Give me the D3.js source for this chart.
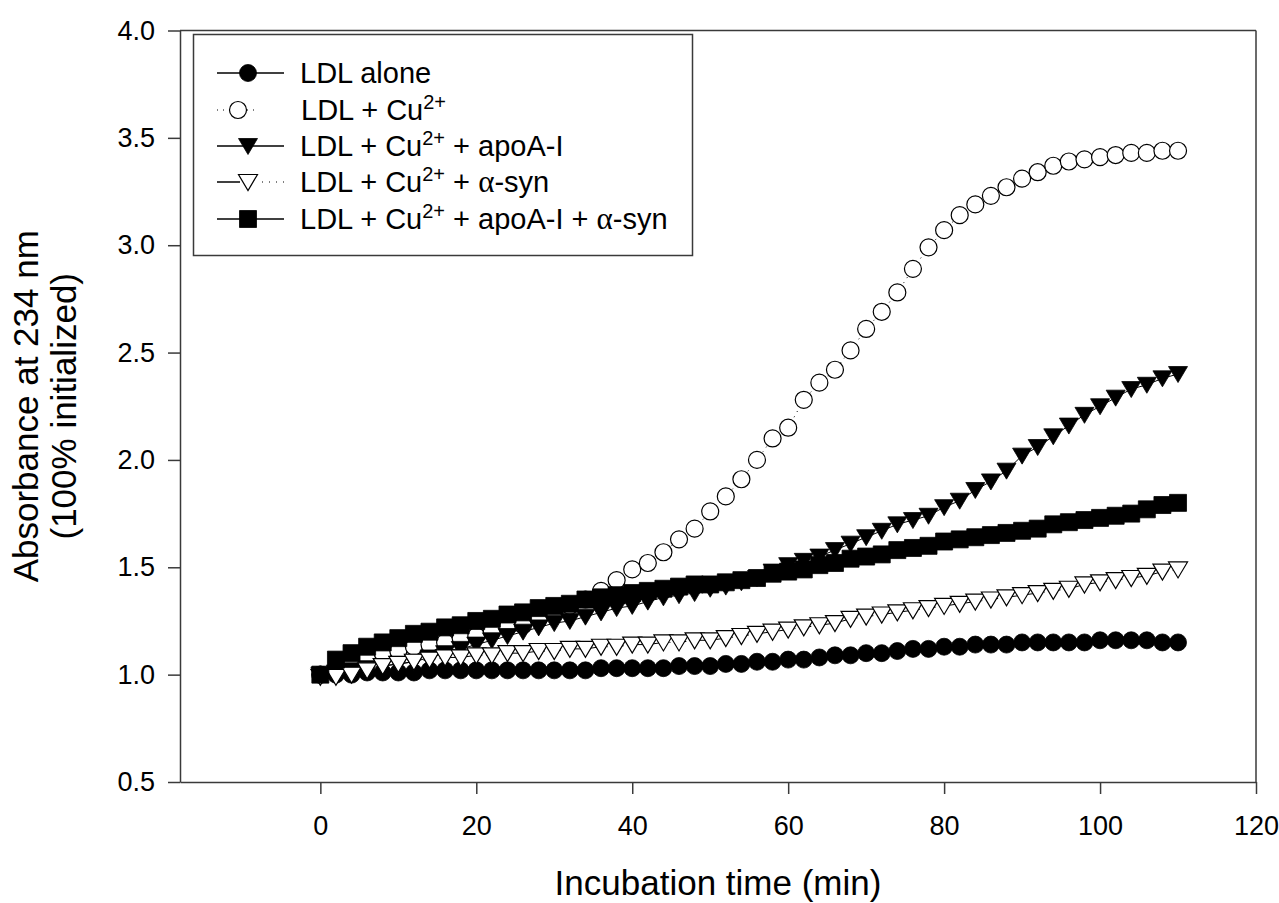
<!DOCTYPE html>
<html lang="en">
<head>
<meta charset="UTF-8">
<title>LDL oxidation kinetics</title>
<script src="https://d3js.org/d3.v7.min.js"></script>
<style>
  body { margin: 0; background: #fff; }
  svg { display: block; font-family: "Liberation Sans", Arial, sans-serif; }
</style>
</head>
<body>
<div id="chart"></div>
<script>
// incubation time (min)
const times = [0, 2, 4, 6, 8, 10, 12, 14, 16, 18,
               20, 22, 24, 26, 28, 30, 32, 34, 36, 38,
               40, 42, 44, 46, 48, 50, 52, 54, 56, 58,
               60, 62, 64, 66, 68, 70, 72, 74, 76, 78,
               80, 82, 84, 86, 88, 90, 92, 94, 96, 98,
               100, 102, 104, 106, 108, 110];

const ldlAlone = [1.00, 1.00, 1.00, 1.01, 1.01, 1.01, 1.01, 1.02, 1.02, 1.02,
                  1.02, 1.02, 1.02, 1.02, 1.02, 1.02, 1.02, 1.02, 1.03, 1.03,
                  1.03, 1.03, 1.03, 1.04, 1.04, 1.04, 1.05, 1.05, 1.06, 1.06,
                  1.07, 1.07, 1.08, 1.09, 1.09, 1.10, 1.10, 1.11, 1.12, 1.12,
                  1.13, 1.13, 1.14, 1.14, 1.14, 1.15, 1.15, 1.15, 1.15, 1.15,
                  1.16, 1.16, 1.16, 1.16, 1.15, 1.15];

const ldlCu = [1.00, 1.02, 1.05, 1.08, 1.10, 1.11, 1.13, 1.14, 1.15, 1.17,
               1.18, 1.20, 1.22, 1.23, 1.26, 1.29, 1.32, 1.35, 1.39, 1.44,
               1.49, 1.52, 1.57, 1.63, 1.68, 1.76, 1.83, 1.91, 2.00, 2.10,
               2.15, 2.28, 2.36, 2.42, 2.51, 2.61, 2.69, 2.78, 2.89, 2.99,
               3.07, 3.14, 3.19, 3.23, 3.27, 3.31, 3.34, 3.37, 3.39, 3.40,
               3.41, 3.42, 3.43, 3.43, 3.44, 3.44];

const ldlCuApoA = [1.00, 1.01, 1.02, 1.03, 1.04, 1.05, 1.06, 1.08, 1.10, 1.12,
                   1.14, 1.16, 1.18, 1.20, 1.22, 1.24, 1.25, 1.27, 1.29, 1.31,
                   1.32, 1.34, 1.36, 1.37, 1.38, 1.40, 1.41, 1.43, 1.45, 1.48,
                   1.51, 1.53, 1.55, 1.58, 1.61, 1.64, 1.67, 1.70, 1.72, 1.74,
                   1.78, 1.81, 1.86, 1.90, 1.95, 2.02, 2.06, 2.11, 2.16, 2.21,
                   2.25, 2.29, 2.33, 2.35, 2.38, 2.40];

const ldlCuSyn = [0.99, 0.99, 1.00, 1.02, 1.04, 1.05, 1.06, 1.07, 1.08, 1.08,
                  1.09, 1.09, 1.10, 1.10, 1.11, 1.11, 1.12, 1.12, 1.13, 1.13,
                  1.14, 1.14, 1.15, 1.15, 1.16, 1.16, 1.17, 1.18, 1.19, 1.20,
                  1.21, 1.22, 1.23, 1.24, 1.26, 1.27, 1.28, 1.29, 1.30, 1.31,
                  1.32, 1.33, 1.34, 1.35, 1.36, 1.37, 1.38, 1.39, 1.40, 1.42,
                  1.43, 1.44, 1.45, 1.46, 1.48, 1.49];

const ldlCuApoASyn = [1.00, 1.07, 1.10, 1.13, 1.15, 1.17, 1.19, 1.20, 1.22, 1.23,
                      1.25, 1.26, 1.28, 1.29, 1.31, 1.32, 1.33, 1.35, 1.36, 1.37,
                      1.38, 1.39, 1.40, 1.41, 1.42, 1.42, 1.43, 1.44, 1.45, 1.47,
                      1.48, 1.49, 1.51, 1.52, 1.54, 1.55, 1.56, 1.58, 1.59, 1.60,
                      1.62, 1.63, 1.64, 1.65, 1.66, 1.67, 1.68, 1.70, 1.71, 1.72,
                      1.73, 1.74, 1.75, 1.77, 1.79, 1.80];

const xTicks = [0, 20, 40, 60, 80, 100, 120];
const yTicks = [0.5, 1.0, 1.5, 2.0, 2.5, 3.0, 3.5, 4.0];

// legend label pieces: [text, kind]  kind: "" normal, "sup" superscript, "gr" greek
const legendLabels = [
  [["LDL alone", ""]],
  [["LDL + Cu", ""], ["2+", "sup"]],
  [["LDL + Cu", ""], ["2+", "sup"], [" + apoA-I", ""]],
  [["LDL + Cu", ""], ["2+", "sup"], [" + ", ""], ["α", "gr"], ["-syn", ""]],
  [["LDL + Cu", ""], ["2+", "sup"], [" + apoA-I + ", ""], ["α", "gr"], ["-syn", ""]]
];

const series = [
  { values: ldlAlone,     marker: "circle",   fill: "#000", dash: null },
  { values: ldlCu,        marker: "circle",   fill: "#fff", dash: "1,5" },
  { values: ldlCuApoA,    marker: "triangle", fill: "#000", dash: null },
  { values: ldlCuSyn,     marker: "triangle", fill: "#fff", dash: "12,4,1,4" },
  { values: ldlCuApoASyn, marker: "square",   fill: "#000", dash: null }
];

const W = 1279, H = 903;
const plotL = 180, plotR = 1256, plotT = 30.5, plotB = 782;

const svg = d3.select("#chart").append("svg")
  .attr("width", W).attr("height", H);

const x = d3.scaleLinear().domain([-18, 120]).range([plotL, plotR]);
const y = d3.scaleLinear().domain([0.5, 4.0]).range([plotB, plotT]);

// marker path around (0,0)
function markerPath(type) {
  if (type === "circle") return d3.symbol(d3.symbolCircle, Math.PI * 8.5 * 8.5)();
  if (type === "square") return "M-8.5,-8.5H8.5V8.5H-8.5Z";
  return "M-9.5,-7.5L9.5,-7.5L0,8.5Z"; // downward triangle
}

// axes
const axisColor = "#3a3a3a";
const xAxis = svg.append("g")
  .attr("transform", `translate(0,${plotB})`)
  .call(d3.axisBottom(x).tickValues(xTicks).tickSize(12).tickSizeOuter(0).tickPadding(22));
const yAxis = svg.append("g")
  .attr("transform", `translate(${plotL},0)`)
  .call(d3.axisLeft(y).tickValues(yTicks).tickSize(12).tickSizeOuter(0).tickPadding(13)
    .tickFormat(d3.format(".1f")));

[xAxis, yAxis].forEach(g => {
  g.selectAll("path, line").attr("stroke", axisColor).attr("stroke-width", 1.5);
  g.selectAll("text").attr("fill", "#000").style("font-size", "27px")
    .style("font-family", '"Liberation Sans", Arial, sans-serif');
});

// top and right frame
svg.append("line").attr("x1", plotL).attr("x2", plotR).attr("y1", plotT).attr("y2", plotT)
  .attr("stroke", axisColor).attr("stroke-width", 1.5);
svg.append("line").attr("x1", plotR).attr("x2", plotR).attr("y1", plotT).attr("y2", plotB)
  .attr("stroke", axisColor).attr("stroke-width", 1.5);

// series lines and markers
const line = d3.line().x((d, i) => x(times[i])).y(d => y(d));
series.forEach(s => {
  svg.append("path")
    .attr("d", line(s.values))
    .attr("fill", "none")
    .attr("stroke", "#000")
    .attr("stroke-width", 1)
    .attr("stroke-dasharray", s.dash);
  svg.append("g").selectAll("path")
    .data(s.values)
    .join("path")
    .attr("transform", (d, i) => `translate(${x(times[i])},${y(d)})`)
    .attr("d", markerPath(s.marker))
    .attr("fill", s.fill)
    .attr("stroke", "#000")
    .attr("stroke-width", s.fill === "#000" ? 0.8 : 1.2);
});

// axis titles
svg.append("text")
  .attr("x", (plotL + plotR) / 2)
  .attr("y", 895)
  .attr("text-anchor", "middle")
  .style("font-size", "35px")
  .text("Incubation time (min)");

const yTitle = svg.append("text")
  .attr("transform", `translate(38,${(plotT + plotB) / 2}) rotate(-90)`)
  .attr("text-anchor", "middle")
  .style("font-size", "35px");
yTitle.append("tspan").attr("x", 0).attr("dy", 0).text("Absorbance at 234 nm");
yTitle.append("tspan").attr("x", 0).attr("dy", 38).text("(100% initialized)");

// legend
const lg = svg.append("g");
lg.append("rect")
  .attr("x", 193.5).attr("y", 34.5).attr("width", 499).attr("height", 221)
  .attr("fill", "#fff").attr("stroke", axisColor).attr("stroke-width", 1.5);

const rowY = [73, 110, 146, 182, 219];
series.forEach((s, i) => {
  const cy = rowY[i];
  const mx = i === 1 ? 238 : 248;
  if (i === 1) {
    lg.append("line").attr("x1", 217).attr("x2", 258).attr("y1", cy).attr("y2", cy)
      .attr("stroke", "#000").attr("stroke-width", 1).attr("stroke-dasharray", "1,5");
  } else if (i === 3) {
    lg.append("line").attr("x1", 217).attr("x2", 240).attr("y1", cy).attr("y2", cy)
      .attr("stroke", "#000").attr("stroke-width", 1.5);
    lg.append("line").attr("x1", 262).attr("x2", 284).attr("y1", cy).attr("y2", cy)
      .attr("stroke", "#000").attr("stroke-width", 1.2).attr("stroke-dasharray", "1,6");
  } else {
    lg.append("line").attr("x1", 217).attr("x2", 284).attr("y1", cy).attr("y2", cy)
      .attr("stroke", "#000").attr("stroke-width", 1.5);
  }
  lg.append("path")
    .attr("transform", `translate(${mx},${cy})`)
    .attr("d", markerPath(s.marker))
    .attr("fill", s.fill)
    .attr("stroke", "#000")
    .attr("stroke-width", s.fill === "#000" ? 0.8 : 1.2);

  const t = lg.append("text")
    .attr("x", i === 1 ? 301 : 300)
    .attr("y", cy + 10)
    .style("font-size", "29px");
  legendLabels[i].forEach(([txt, kind], k) => {
    const prev = k > 0 ? legendLabels[i][k - 1][1] : "";
    const sp = t.append("tspan").text(txt);
    if (kind === "sup") sp.attr("dy", -11).style("font-size", "20px");
    else if (prev === "sup") sp.attr("dy", 11);
    if (kind === "gr") sp.style("font-family", '"Liberation Serif", "Times New Roman", serif')
      .style("font-size", "31px");
  });
});
</script>
</body>
</html>
